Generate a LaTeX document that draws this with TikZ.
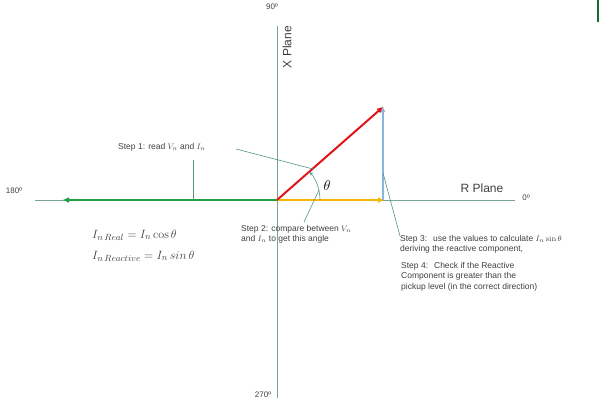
\documentclass[tikz,border=0pt]{standalone}
\usepackage[no-math]{fontspec}
\setmainfont{Liberation Sans}
\usetikzlibrary{arrows.meta}
\definecolor{axisgray}{RGB}{120,165,155}
\definecolor{leadteal}{RGB}{80,150,135}
\definecolor{labelgray}{RGB}{64,64,64}
\definecolor{vecgreen}{RGB}{30,160,70}
\definecolor{vecyellow}{RGB}{247,183,0}
\definecolor{vecred}{RGB}{225,20,25}
\definecolor{vecblue}{RGB}{140,180,225}
\definecolor{markgreen}{RGB}{20,110,50}
\begin{document}
\begin{tikzpicture}[x=1pt, y=-1pt,
  axis/.style={draw=axisgray, line width=0.8pt},
  leader/.style={draw=leadteal, line width=0.6pt},
  lbl/.style={font=\fontsize{8.5}{10.6}\selectfont, text=labelgray, inner sep=0pt, align=left},
  deg/.style={font=\fontsize{8}{9}\selectfont, text=labelgray, inner sep=0pt},
  plane/.style={font=\fontsize{12}{14}\selectfont, text=labelgray, inner sep=0pt},
  vec/.style={line width=2pt, -{Triangle[length=6pt,width=5pt]}}]
  \useasboundingbox (0,0) rectangle (600,404);
  % axes
  \coordinate (O) at (277,200);
  \coordinate (top) at (277,26);
  \coordinate (bot) at (277,398);
  \coordinate (left) at (35,200);
  \coordinate (right) at (515,200);
  \draw[axis] (top) -- (bot);
  \draw[axis] (left) -- (right);
  \node[deg] (n90) at (272,7) {90º};
  \node[deg] (n270) at (263,395) {270º};
  \node[deg] (n180) at (14,191) {180º};
  \node[deg] (n0) at (526,198) {0º};
  \node[plane, rotate=90] (xplane) at (287,47) {X Plane};
  \node[plane] (rplane) at (482,188) {R Plane};
  % vectors
  \coordinate (G) at (63,200);
  \coordinate (Y) at (384,200);
  \coordinate (R) at (383,107);
  \coordinate (B) at (383,107);
  \coordinate (Bf) at (383,200);
  \draw[vec, vecgreen] (O) -- (G);
  \draw[vec, vecyellow] (O) -- (Y);
  \draw[vec, vecred] (O) -- (R);
  \draw[vecblue, line width=1.4pt, -{Triangle[length=5pt,width=4pt]}] (Bf) -- (B);
  % angle
  \draw[leader, -{Stealth[length=4pt]}] ([xshift=43pt]O) arc[start angle=0, end angle=-41, radius=43];
  \node[font=\fontsize{15}{17}\selectfont, inner sep=0pt] (theta) at (327,185) {$\theta$};
  % step 1
  \node[lbl, anchor=west] (step1) at (118,147) {Step 1: read $V_n$ and $I_n$};
  \coordinate (s1a) at (236,149);
  \coordinate (s1b) at (313,169);
  \coordinate (s1c) at (193,160);
  \coordinate (s1d) at (193,200);
  \draw[leader] (s1a) -- (s1b);
  \draw[leader] (s1c) -- (s1d);
  % step 2
  \node[lbl, anchor=north west] (step2) at (241,225) {Step 2: compare between $V_n$\\and $I_n$ to get this angle};
  \coordinate (s2a) at (304,222);
  \coordinate (s2b) at (319,190);
  \draw[leader] (s2a) -- (s2b);
  % step 3 and 4
  \node[lbl, anchor=north west] (step3) at (400,235) {Step 3:\,\, use the values to calculate $I_n\sin\theta$\\deriving the reactive component,};
  \node[lbl, anchor=north west] (step4) at (401,262) {Step 4:\,\, Check if the Reactive\\Component is greater than the\\pickup level (in the correct direction)};
  \coordinate (s3a) at (400,236);
  \coordinate (s3b) at (383,173);
  \draw[leader] (s3a) -- (s3b);
  % equations
  \node[anchor=west, inner sep=0pt, font=\fontsize{13}{15}\selectfont, text=labelgray] (eqreal) at (92,235) {$I_{n\,Real} = I_n \cos\theta$};
  \node[anchor=west, inner sep=0pt, font=\fontsize{13}{15}\selectfont, text=labelgray] (eqreac) at (92,256) {$I_{n\,Reactive} = I_n\, sin\,\theta$};
  % edge mark
  \coordinate (m1) at (598,0);
  \coordinate (m2) at (598,22);
  \draw[markgreen, line width=1.5pt] (m1) -- (m2);
\end{tikzpicture}
\end{document}
